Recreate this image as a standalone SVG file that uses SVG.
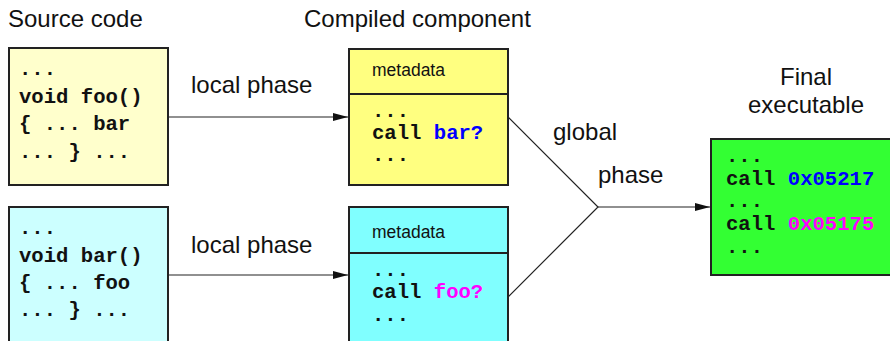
<svg xmlns="http://www.w3.org/2000/svg" width="890" height="341" viewBox="0 0 890 341">
<style>
.lbl{font-family:"Liberation Sans",Arial,sans-serif;font-size:24px;fill:#111}
.meta{font-family:"Liberation Sans",Arial,sans-serif;font-size:17.5px;fill:#111}
.code{font-family:"Liberation Mono","Courier New",monospace;font-size:20.6px;font-weight:bold;fill:#111}
.box{stroke:#222;stroke-width:2}
.conn{stroke:#222;stroke-width:1.2;fill:none}
.blue{fill:#0000ff}
.mag{fill:#ff00ff}
</style>
<defs>
<marker id="arr" markerWidth="15" markerHeight="8" refX="15" refY="4" orient="auto" markerUnits="userSpaceOnUse">
<path d="M0,0 L15,4 L0,8 Z" fill="#111"/>
</marker>
</defs>
<text class="lbl" x="8" y="27">Source code</text>
<text class="lbl" x="304" y="27">Compiled component</text>
<text class="lbl" x="806" y="85" text-anchor="middle">Final</text>
<text class="lbl" x="806" y="113" text-anchor="middle">executable</text>
<g id="connectors">
<line class="conn" x1="168" y1="117" x2="348" y2="117" marker-end="url(#arr)"/>
<line class="conn" x1="168" y1="275" x2="348" y2="275" marker-end="url(#arr)"/>
<polyline class="conn" points="508,117 598,207 508,297"/>
<line class="conn" x1="598" y1="207" x2="710" y2="207" marker-end="url(#arr)"/>
<text class="lbl" x="191" y="93">local phase</text>
<text class="lbl" x="191" y="253">local phase</text>
<text class="lbl" x="553" y="140">global</text>
<text class="lbl" x="598" y="183">phase</text>
</g>
<g id="src-foo">
<rect class="box" x="9" y="48" width="159" height="137" fill="#ffffcc"/>
<text class="code" x="19" y="75">...</text>
<text class="code" x="19" y="103">void foo()</text>
<text class="code" x="19" y="130">{ ... bar</text>
<text class="code" x="19" y="158">... } ...</text>
</g>
<g id="src-bar">
<rect class="box" x="9" y="207" width="159" height="140" fill="#ccffff"/>
<text class="code" x="19" y="234">...</text>
<text class="code" x="19" y="262">void bar()</text>
<text class="code" x="19" y="289">{ ... foo</text>
<text class="code" x="19" y="316">... } ...</text>
</g>
<g id="comp-foo">
<rect class="box" x="349" y="49" width="159" height="136" fill="#ffff80"/>
<line class="box" x1="349" y1="94" x2="508" y2="94"/>
<text class="meta" x="372" y="76">metadata</text>
<text class="code" x="372" y="117">...</text>
<text class="code" x="372" y="139">call <tspan class="blue">bar?</tspan></text>
<text class="code" x="372" y="161">...</text>
</g>
<g id="comp-bar">
<rect class="box" x="349" y="207" width="159" height="140" fill="#80ffff"/>
<line class="box" x1="349" y1="253" x2="508" y2="253"/>
<text class="meta" x="372" y="238">metadata</text>
<text class="code" x="372" y="276">...</text>
<text class="code" x="372" y="298">call <tspan class="mag">foo?</tspan></text>
<text class="code" x="372" y="321">...</text>
</g>
<g id="final">
<rect class="box" x="711" y="139" width="185" height="136" fill="#33ff33"/>
<text class="code" x="726" y="162">...</text>
<text class="code" x="726" y="185">call <tspan class="blue">0x05217</tspan></text>
<text class="code" x="726" y="207">...</text>
<text class="code" x="726" y="230">call <tspan class="mag">0x05175</tspan></text>
<text class="code" x="726" y="253">...</text>
</g>
</svg>
